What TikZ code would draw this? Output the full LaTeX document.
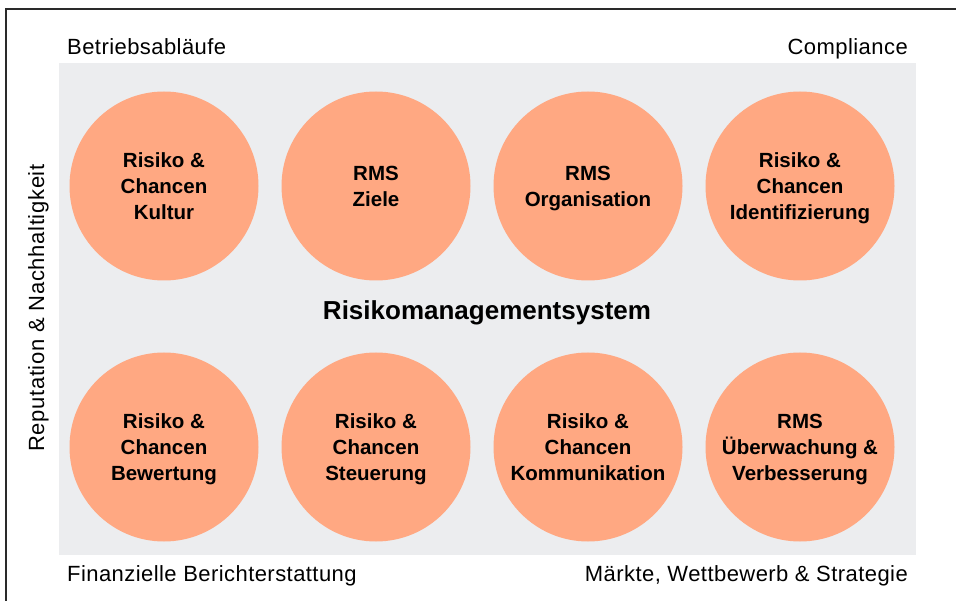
\documentclass[tikz,border=0pt]{standalone}
\usepackage{fontspec}
\setmainfont{Liberation Sans}
\newfontfamily\lblfont[LetterSpace=2]{Liberation Sans}
\newfontfamily\sidefont[LetterSpace=3]{Liberation Sans}
\newcommand\mystrut{\rule[-5.4pt]{0pt}{25.4pt}}
\definecolor{salmon}{HTML}{FFA882}
\definecolor{panel}{HTML}{ECEDEF}
\definecolor{frame}{HTML}{2A2A2A}
\begin{document}
\begin{tikzpicture}[x=1pt,y=-1pt,
  circ/.style={circle,fill=salmon,minimum size=189pt,inner sep=0pt,align=center,
    font=\fontsize{20.5}{26}\selectfont\bfseries},
  lbl/.style={inner sep=0pt,font=\lblfont\fontsize{22}{26}\selectfont},
  side/.style={inner sep=0pt,font=\sidefont\fontsize{22}{26}\selectfont},
  title/.style={inner sep=0pt,font=\fontsize{26}{30}\selectfont\bfseries}]
\useasboundingbox (0,0) rectangle (956,601);
\fill[white] (0,0) rectangle (956,601);
\draw[frame,line width=1.6pt] (6,601) -- (6,9) -- (956,9);
\fill[panel] (59,63) rectangle (916,555);
\node[circ] (c1) at (164,186) {\mystrut Risiko \&\\Chancen\\Kultur\mystrut};
\node[circ] (c2) at (376,186) {\mystrut RMS\\Ziele\mystrut};
\node[circ] (c3) at (588,186) {\mystrut RMS\\Organisation\mystrut};
\node[circ] (c4) at (800,186) {\mystrut Risiko \&\\Chancen\\Identifizierung\mystrut};
\node[circ] (c5) at (164,447) {\mystrut Risiko \&\\Chancen\\Bewertung\mystrut};
\node[circ] (c6) at (376,447) {\mystrut Risiko \&\\Chancen\\Steuerung\mystrut};
\node[circ] (c7) at (588,447) {\mystrut Risiko \&\\Chancen\\Kommunikation\mystrut};
\node[circ] (c8) at (800,447) {\mystrut RMS\\Überwachung \&\\Verbesserung\mystrut};
\node[title] (t) at (487,313) {Risikomanagementsystem};
\node[lbl,anchor=base west] (l1) at (67,55) {Betriebsabläufe};
\node[lbl,anchor=base east] (l2) at (908,55) {Compliance};
\node[lbl,anchor=base west] (l3) at (67,581) {Finanzielle Berichterstattung};
\node[lbl,anchor=base east] (l4) at (908,581) {Märkte, Wettbewerb \& Strategie};
\node[side,anchor=base,rotate=90] (l5) at (44,308) {Reputation \& Nachhaltigkeit};
\end{tikzpicture}
\end{document}
